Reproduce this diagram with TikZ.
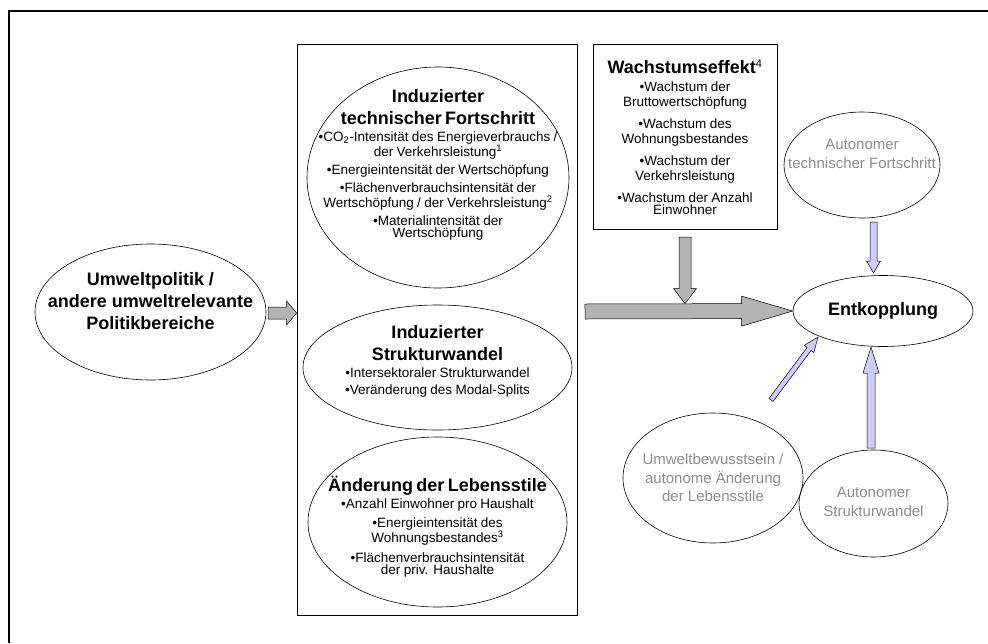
\documentclass[tikz,border=0pt]{standalone}
\usepackage{fontspec}
\setmainfont{Liberation Sans}
\usetikzlibrary{shapes.geometric,calc}
\setlength{\parindent}{0pt}
\definecolor{arrowgray}{HTML}{B3B3B3}
\definecolor{lavender}{HTML}{CCCCFF}
\definecolor{fadedtext}{HTML}{8C8C8C}
\newcommand{\headfont}{\fontsize{18}{22}\selectfont\bfseries}
\newcommand{\itemfont}{\fontsize{13.5}{15}\selectfont}
\newcommand{\softfont}{\fontsize{15}{18.5}\selectfont}
% block arrow: tail, tip, half body, half head, head length, fill
\newcommand{\blockarrow}[6]{%
  \path let \p1=(#1), \p2=(#2),
    \n1={atan2(\y2-\y1,\x2-\x1)}, \n2={veclen(\x2-\x1,\y2-\y1)} in
    \pgfextra{\xdef\arrowang{\n1}\xdef\arrowlen{\n2}};
  \filldraw[fill=#6, draw=black, line width=0.5pt, shift={(#1)}, rotate=\arrowang]
    (0pt,-#3pt) -- (\arrowlen-#5pt,-#3pt) -- (\arrowlen-#5pt,-#4pt) -- (\arrowlen,0pt)
    -- (\arrowlen-#5pt,#4pt) -- (\arrowlen-#5pt,#3pt) -- (0pt,#3pt) -- cycle;
}

\begin{document}
\begin{tikzpicture}[x=1pt, y=-1pt,
  bubble/.style={draw, ellipse, line width=0.6pt, inner sep=0pt},
  panel/.style={draw, line width=0.8pt, inner sep=0pt},
  blurb/.style={align=center, inner sep=0pt}]
\useasboundingbox (0,0) rectangle (988,643);
% outer frame, only top and left edge inside the page
\draw[line width=1.4pt] (988,11) -- (9,11) -- (9,643);

% policy
\node[bubble, minimum width=231pt, minimum height=136pt] (policy) at (150.5,312) {};
\node[blurb, font=\headfont] (policy-txt) at (150.5,301) {Umweltpolitik /\\andere umweltrelevante\\Politikbereiche};

% induced effects
\node[panel, minimum width=280pt, minimum height=571pt] (induced) at (437,329.5) {};
\node[bubble, minimum width=262pt, minimum height=221pt] (tech) at (438,177.5) {};
\node[blurb, text width=266pt] (tech-txt) at (438,165) {{\headfont Induzierter\\technischer Fortschritt\par}\vspace{2pt}
  \itemfont •CO\textsubscript{2}-Intensität des Energieverbrauchs /\\der Verkehrsleistung\textsuperscript{1}\\[3pt]
  •Energieintensität der Wertschöpfung\\[3pt]
  •Flächenverbrauchsintensität der\\Wertschöpfung / der Verkehrsleistung\textsuperscript{2}\\[3pt]
  •Materialintensität der\\Wertschöpfung};
\node[bubble, minimum width=269pt, minimum height=125pt] (struct) at (437.5,367.5) {};
\node[blurb, text width=260pt] (struct-txt) at (437.5,361) {{\headfont Induzierter\\Strukturwandel\par}\vspace{2pt}
  \itemfont •Intersektoraler Strukturwandel\\[5pt]
  •Veränderung des Modal-Splits};
\node[bubble, minimum width=259pt, minimum height=170pt] (life) at (437.5,522) {};
\node[blurb, text width=260pt] (life-txt) at (437.5,527) {{\headfont Änderung der Lebensstile\par}\vspace{2pt}
  \itemfont •Anzahl Einwohner pro Haushalt\\[4pt]
  •Energieintensität des\\Wohnungsbestandes\textsuperscript{3}\\[5pt]
  •Flächenverbrauchsintensität\\der priv. Haushalte};

% growth effect
\node[panel, minimum width=184pt, minimum height=185pt] (growth) at (685,136.5) {};
\node[blurb, text width=180pt] (growth-txt) at (685,137) {{\headfont Wachstumseffekt\textsuperscript{\fontsize{11}{11}\selectfont\mdseries 4}\par}\vspace{3pt}
  \itemfont •Wachstum der\\Bruttowertschöpfung\\[7pt]
  •Wachstum des\\Wohnungsbestandes\\[7pt]
  •Wachstum der\\Verkehrsleistung\\[7pt]
  •Wachstum der Anzahl\\Einwohner};

% decoupling and autonomous drivers
\node[bubble, minimum width=180pt, minimum height=71pt, font=\headfont] (ent) at (883,311) {Entkopplung};
\node[bubble, minimum width=156pt, minimum height=106pt] (autotech) at (862,165) {};
\node[blurb, font=\softfont, text=fadedtext] (autotech-txt) at (862,154) {Autonomer\\technischer Fortschritt};
\node[bubble, minimum width=180pt, minimum height=130pt] (aware) at (713,478) {};
\node[blurb, font=\softfont, text=fadedtext] (aware-txt) at (aware) {Umweltbewusstsein /\\autonome Änderung\\der Lebensstile};
\node[bubble, minimum width=149pt, minimum height=107pt] (autostruct) at (873.5,503.5) {};
\node[blurb, font=\softfont, text=fadedtext] (autostruct-txt) at (873.5,502) {Autonomer\\Strukturwandel};

% arrows
\coordinate (policy-out) at (268,313);
\coordinate (induced-in) at (policy-out -| induced.west);
\coordinate (main-tail) at (585,311.5);
\coordinate (growth-out) at (685,237);
\coordinate (growth-in) at (685,303.5);
\coordinate (autotech-out) at (873.5,222);
\coordinate (ent-top) at (873.5,273);
\coordinate (autostruct-out) at (871,448);
\coordinate (ent-bottom) at (871,347);
\coordinate (aware-out) at (771,400);
\coordinate (ent-left) at (818,337);
\blockarrow{policy-out}{induced-in}{6}{12}{10}{arrowgray}
\blockarrow{main-tail}{ent.west}{7.5}{15}{51}{arrowgray}
\blockarrow{growth-out}{growth-in}{6}{11.5}{15}{arrowgray}
\blockarrow{autotech-out}{ent-top}{3.5}{7}{12}{lavender}
\blockarrow{autostruct-out}{ent-bottom}{4}{8}{26}{lavender}
\blockarrow{aware-out}{ent-left}{2.5}{6}{15}{lavender}
\end{tikzpicture}
\end{document}
